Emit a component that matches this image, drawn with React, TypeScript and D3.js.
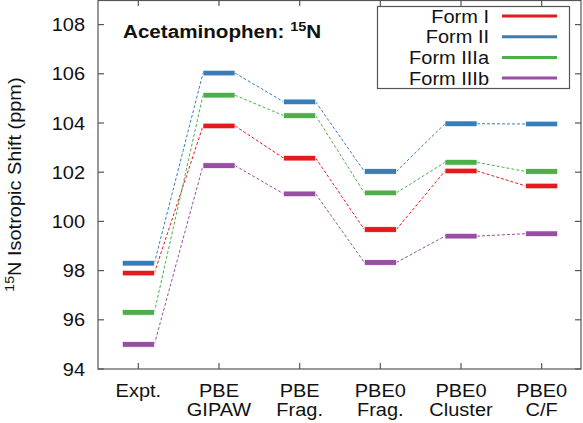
import React from "react";
import * as d3 from "d3";

const categories = ["Expt.|", "PBE|GIPAW", "PBE|Frag.", "PBE0|Frag.", "PBE0|Cluster", "PBE0|C/F"];
const seriesNames = ["Form I", "Form II", "Form IIIa", "Form IIIb"];
const seriesColors = ["#e41a1c", "#377eb8", "#4daf4a", "#984ea3"];
const formI = [97.9, 103.88, 102.57, 99.67, 102.05, 101.44];
const formII = [98.3, 106.03, 104.86, 102.03, 103.97, 103.96];
const formIIIa = [96.3, 105.13, 104.3, 101.16, 102.4, 102.03];
const formIIIb = [95.0, 102.27, 101.12, 98.33, 99.4, 99.5];
const yTicks = [94, 96, 98, 100, 102, 104, 106, 108];

const W = 583, H = 423;
const M = { left: 98, right: 582, top: 0, bottom: 369 };
const SX = 1.08;

function T(props: { x: number; y: number; anchor?: string; size?: number; weight?: string; sx?: number; children: React.ReactNode }) {
  const { x, y, anchor = "start", size = 18.5, weight = "normal", sx = SX, children } = props;
  return (
    <text transform={`translate(${x},${y}) scale(${sx},1)`} fontSize={size} fontWeight={weight} textAnchor={anchor} fill="#111">
      {children}
    </text>
  );
}

export default function App() {
  const series = [formI, formII, formIIIa, formIIIb];
  const x = d3.scaleLinear().domain([-0.5, 5.5]).range([M.left, M.right]);
  const y = d3.scaleLinear().domain([94, 109]).range([M.bottom, M.top]);
  const half = 16;
  const font = "'Liberation Sans', Arial, Helvetica, sans-serif";
  const axisColor = "#555";
  return (
    <svg width={W} height={H} style={{ position: "absolute", left: 0, top: 0 }} fontFamily={font}>
      <rect x={0} y={0} width={W} height={H} fill="white" />
      <rect x={M.left} y={M.top + 0.5} width={M.right - M.left - 1} height={M.bottom - M.top - 0.5} fill="none" stroke={axisColor} strokeWidth={1.2} />
      {yTicks.map((t) => (
        <g key={"y" + t}>
          <line x1={M.left} x2={M.left + 6} y1={y(t)} y2={y(t)} stroke={axisColor} strokeWidth={1.2} />
          <line x1={M.right - 1} x2={M.right - 7} y1={y(t)} y2={y(t)} stroke={axisColor} strokeWidth={1.2} />
          <T x={85} y={y(t) + 6.5} anchor="end">{t}</T>
        </g>
      ))}
      {categories.map((c, i) => {
        const [l1, l2] = c.split("|");
        return (
          <g key={"x" + i}>
            <line x1={x(i)} x2={x(i)} y1={M.bottom} y2={M.bottom - 6} stroke={axisColor} strokeWidth={1.2} />
            <line x1={x(i)} x2={x(i)} y1={M.top} y2={M.top + 6} stroke={axisColor} strokeWidth={1.2} />
            <T x={x(i)} y={397} anchor="middle">{l1}</T>
            {l2 && <T x={x(i)} y={416} anchor="middle">{l2}</T>}
          </g>
        );
      })}
      <text transform={`translate(21, ${(M.top + M.bottom) / 2}) rotate(-90) scale(${SX},1)`} fontSize={18.5} textAnchor="middle" fill="#111">
        <tspan fontSize={13} dy={-7}>15</tspan>
        <tspan dy={7}>N Isotropic Shift (ppm)</tspan>
      </text>
      {series.map((vals, s) => (
        <g key={"l" + s}>
          {vals.slice(0, -1).map((v, i) => (
            <line key={i} x1={x(i) + half} y1={y(v)} x2={x(i + 1) - half} y2={y(vals[i + 1])}
              stroke={seriesColors[s]} strokeWidth={1} strokeDasharray="3,2" />
          ))}
        </g>
      ))}
      {series.map((vals, s) => (
        <g key={"b" + s}>
          {vals.map((v, i) => (
            <rect key={i} x={x(i) - half} y={y(v) - 2.75} width={half * 2} height={5.5}
              fill={seriesColors[s]} stroke="white" strokeWidth={0.6} />
          ))}
        </g>
      ))}
      <T x={123} y={38} size={18.5} weight="bold" sx={1.115}>
        Acetaminophen: <tspan fontSize={13} dy={-7.5}>15</tspan><tspan dy={7.5}>N</tspan>
      </T>
      <rect x={377.5} y={6.5} width={192} height={82} fill="white" stroke={axisColor} strokeWidth={1.2} />
      {seriesNames.map((n, s) => {
        const ly = 16 + s * 20.7;
        return (
          <g key={"g" + s}>
            <T x={489} y={ly + 6.5} anchor="end">{n}</T>
            <line x1={502} x2={557} y1={ly} y2={ly} stroke={seriesColors[s]} strokeWidth={3} />
          </g>
        );
      })}
    </svg>
  );
}
